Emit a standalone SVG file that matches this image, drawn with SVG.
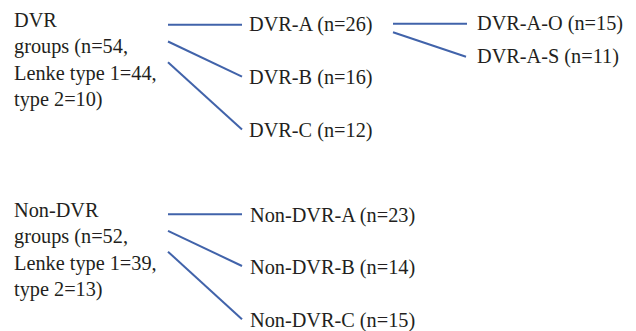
<svg xmlns="http://www.w3.org/2000/svg" width="636" height="331" viewBox="0 0 636 331">
<style>
.t{font-size:20.3px;fill:#231f20}
.c line{stroke:#4163aa;stroke-width:2;stroke-linecap:butt}
</style>
<rect width="636" height="331" fill="#ffffff"/>
<g class="c" id="connectors">
<line x1="168" y1="24.7" x2="242" y2="24.7"/>
<line x1="168" y1="41.5" x2="242" y2="76.7"/>
<line x1="168" y1="62.3" x2="242" y2="129.5"/>
<line x1="393" y1="23.7" x2="467" y2="23.7"/>
<line x1="393" y1="32.3" x2="466" y2="56.7"/>
<line x1="168" y1="214.3" x2="242" y2="214.3"/>
<line x1="168" y1="230.8" x2="242" y2="266"/>
<line x1="168" y1="251.7" x2="242" y2="319.3"/>
</g>
<g class="t" font-family="Liberation Serif, serif">
<g id="dvr">
<text x="14" y="27.3">DVR</text>
<text x="14" y="53.3">groups (n=54,</text>
<text x="14" y="80">Lenke type 1=44,</text>
<text x="14" y="106">type 2=10)</text>
</g>
<g id="dvr-a"><text x="249" y="31">DVR-A (n=26)</text></g>
<g id="dvr-b"><text x="249" y="84">DVR-B (n=16)</text></g>
<g id="dvr-c"><text x="249" y="137">DVR-C (n=12)</text></g>
<g id="dvr-a-o"><text x="477" y="29.5">DVR-A-O (n=15)</text></g>
<g id="dvr-a-s"><text x="477" y="63">DVR-A-S (n=11)</text></g>
<g id="nondvr">
<text x="14" y="216.7">Non-DVR</text>
<text x="14" y="243.3">groups (n=52,</text>
<text x="14" y="270">Lenke type 1=39,</text>
<text x="14" y="296">type 2=13)</text>
</g>
<g id="nondvr-a"><text x="250" y="221.5">Non-DVR-A (n=23)</text></g>
<g id="nondvr-b"><text x="250" y="273.5">Non-DVR-B (n=14)</text></g>
<g id="nondvr-c"><text x="250" y="326.5">Non-DVR-C (n=15)</text></g>
</g>
</svg>
